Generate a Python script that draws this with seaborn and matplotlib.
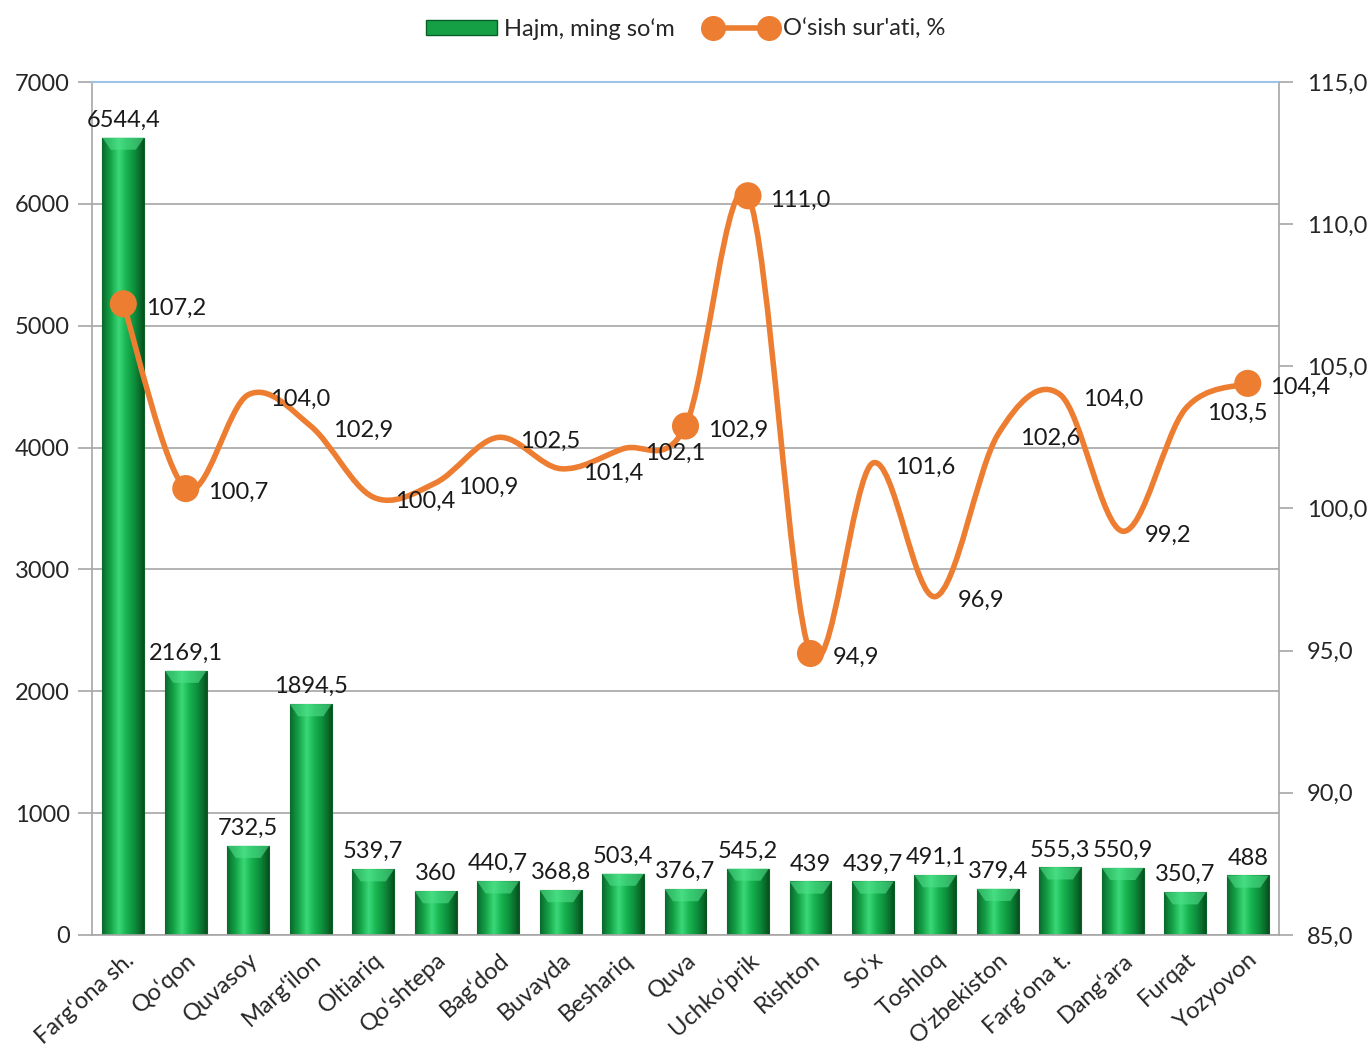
import numpy as np
import pandas as pd
import matplotlib
matplotlib.use("Agg")
import matplotlib.pyplot as plt
import seaborn as sns
from matplotlib.path import Path
from matplotlib.patches import PathPatch, Patch
from matplotlib.lines import Line2D
from matplotlib.colors import LinearSegmentedColormap
from matplotlib.ticker import FuncFormatter

# --- data -------------------------------------------------------------
categories = ["Farg‘ona sh.", "Qo‘qon", "Quvasoy", "Marg‘ilon", "Oltiariq",
              "Qo‘shtepa", "Bag‘dod", "Buvayda", "Beshariq", "Quva",
              "Uchko‘prik", "Rishton", "So‘x", "Toshloq", "O‘zbekiston",
              "Farg‘ona t.", "Dang‘ara", "Furqat", "Yozyovon"]
volume = [6544.4, 2169.1, 732.5, 1894.5, 539.7, 360, 440.7, 368.8, 503.4,
          376.7, 545.2, 439, 439.7, 491.1, 379.4, 555.3, 550.9, 350.7, 488]
growth = [107.2, 100.7, 104.0, 102.9, 100.4, 100.9, 102.5, 101.4, 102.1,
          102.9, 111.0, 94.9, 101.6, 96.9, 102.6, 104.0, 99.2, 103.5, 104.4]
marked = ["Farg‘ona sh.", "Qo‘qon", "Quva", "Uchko‘prik", "Rishton", "Yozyovon"]

ORANGE = "#ED7D31"
GRID = "#a6a6a6"
FS = 17

sns.set_style("white")
plt.rcParams["font.family"] = ["Lato", "DejaVu Sans"]
plt.rcParams["font.size"] = FS


def fmt_num(v):
    if float(v).is_integer():
        return str(int(v))
    return f"{v:.1f}".replace(".", ",")


df = pd.DataFrame({"cat": categories, "vol": volume, "gr": growth})
df["x"] = np.arange(len(df))

fig = plt.figure(figsize=(13.72, 10.61), dpi=100)
ax = fig.add_axes([0.0671, 0.1188, 0.8651, 0.8039])

sns.barplot(data=df, x="cat", y="vol", color="#18a94c", width=0.67,
            edgecolor="#0a5e28", linewidth=0.8, ax=ax, zorder=2)

# shaded bars
bar_cmap = LinearSegmentedColormap.from_list(
    "bar", ["#0a6a2d", "#14a347", "#3ad877", "#16b04e", "#0d8a3a", "#07521f"])
grad = np.linspace(0, 1, 64).reshape(1, -1)
for p in ax.patches:
    x0, y0 = p.get_x(), p.get_y()
    w, h = p.get_width(), p.get_height()
    im = ax.imshow(grad, cmap=bar_cmap, aspect="auto", zorder=2.5,
                   extent=[x0, x0 + w, y0, y0 + h], origin="lower")
    im.set_clip_path(p)
    # light bevel on the top
    bev = min(100, h * 0.3)
    top = plt.Polygon([[x0, y0 + h], [x0 + w, y0 + h],
                       [x0 + w * 0.8, y0 + h - bev], [x0 + w * 0.2, y0 + h - bev]],
                      closed=True, facecolor="#4fe08a", edgecolor="none",
                      alpha=0.6, zorder=2.6)
    ax.add_patch(top)

for x, v in zip(df["x"], df["vol"]):
    ax.annotate(fmt_num(v), (x, v), xytext=(0, 5), textcoords="offset points",
                ha="center", va="bottom", fontsize=FS, color="#1a1a1a", zorder=5)

ax.set_xlim(-0.5, len(df) - 0.5)
ax.set_ylim(0, 7000)
ax.set_yticks(range(0, 7001, 1000))
ax.yaxis.grid(True, color=GRID, linewidth=1.2, zorder=0)
ax.set_axisbelow(True)
ax.set_xlabel("")
ax.set_ylabel("")
ax.set_xticks(np.arange(len(df)))
ax.set_xticklabels(categories, rotation=42, ha="right", rotation_mode="anchor",
                   fontsize=FS)
ax.set_xticks(np.arange(-0.5, len(df)), minor=True)
ax.tick_params(axis="x", which="major", length=0, pad=10)
ax.tick_params(axis="x", which="minor", length=8, color=GRID, width=1.2)
ax.tick_params(axis="y", length=10, color=GRID, width=1.2, labelsize=FS, pad=6)
for s in ["left", "bottom", "right"]:
    ax.spines[s].set_color(GRID)
    ax.spines[s].set_linewidth(1.2)
ax.spines["top"].set_color("#9dc3e6")
ax.spines["top"].set_linewidth(1.5)

# --- growth line on right axis ----------------------------------------
ax2 = ax.twinx()
ax2.set_ylim(85, 115)
ax2.set_yticks(range(85, 116, 5))
ax2.yaxis.set_major_formatter(FuncFormatter(lambda v, _: f"{v:.1f}".replace(".", ",")))
ax2.tick_params(axis="y", length=10, color=GRID, width=1.2, labelsize=FS, pad=10)
for s in ax2.spines.values():
    s.set_visible(False)

# smoothed curve (Catmull-Rom as cubic Bezier)
pts = np.column_stack([df["x"].to_numpy(float), df["gr"].to_numpy(float)])
ext = np.vstack([pts[0], pts, pts[-1]])
verts = [tuple(pts[0])]
codes = [Path.MOVETO]
for i in range(1, len(ext) - 2):
    p0, p1, p2, p3 = ext[i - 1], ext[i], ext[i + 1], ext[i + 2]
    c1 = p1 + (p2 - p0) / 6
    c2 = p2 - (p3 - p1) / 6
    verts += [tuple(c1), tuple(c2), tuple(p2)]
    codes += [Path.CURVE4] * 3
ax2.add_patch(PathPatch(Path(verts, codes), facecolor="none", edgecolor=ORANGE,
                        linewidth=4, capstyle="round", joinstyle="round", zorder=6))

mk = df[df["cat"].isin(marked)]
sns.scatterplot(data=mk, x="x", y="gr", color=ORANGE, s=380, edgecolor="none",
                ax=ax2, zorder=7, legend=False)
ax2.set_xlim(-0.5, len(df) - 0.5)
ax2.set_xlabel("")
ax2.set_ylabel("")

for x, v in zip(df["x"], df["gr"]):
    ax2.annotate(f"{v:.1f}".replace(".", ","), (x, v), xytext=(16, -3),
                 textcoords="offset points", ha="left", va="center",
                 fontsize=FS, color="#1a1a1a", zorder=8)

# --- legend -----------------------------------------------------------
handles = [Patch(facecolor="#15a045", edgecolor="#0a5e28"),
           Line2D([0], [0], color=ORANGE, lw=4, marker="o", markersize=17)]
fig.legend(handles, ["Hajm, ming so‘m", "O‘sish sur'ati, %"],
           loc="center", bbox_to_anchor=(0.5, 0.973), ncol=2, frameon=False,
           fontsize=FS, handlelength=3.0, handleheight=0.6, columnspacing=1.3,
           handletextpad=0.3, numpoints=2)

fig.savefig("out.png", dpi=100)
